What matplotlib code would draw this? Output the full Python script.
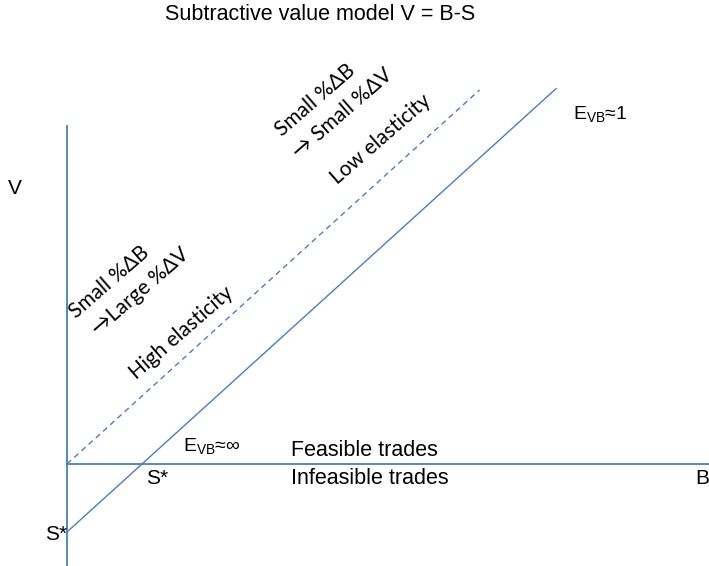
import matplotlib
matplotlib.use("Agg")
import matplotlib.pyplot as plt
import numpy as np

# model units: S* = 1, V = B - S
S_star = 1.0
B_solid = np.array([0.0, 6.52])
V_solid = B_solid - S_star          # subtractive value line
B_dash = np.array([0.0, 5.5])
V_dash = B_dash                     # parallel line through origin
B_axis = [0.0, 8.6]
V_axis = [-1.5, 4.97]

line_color = '#4a7ebb'

plt.rcParams['mathtext.fontset'] = 'custom'
plt.rcParams['mathtext.rm'] = 'Liberation Sans'
arial = ['Liberation Sans', 'DejaVu Sans']
calibri = ['Lato', 'DejaVu Sans']

fig = plt.figure(figsize=(7.09, 5.66), dpi=100)
ax = fig.add_axes([0, 0, 1, 1])
ax.set_xlim(-67 / 75, (709 - 67) / 75)
ax.set_ylim((464 - 566) / 68, 464 / 68)
ax.axis('off')

# axes of the diagram
ax.plot(B_axis, [0, 0], color=line_color, lw=1.3)
ax.plot([0, 0], V_axis, color=line_color, lw=1.3)

ax.plot(B_solid, V_solid, color=line_color, lw=1.0)
ax.plot(B_dash, V_dash, color=line_color, lw=1.0, dashes=(4, 3))

fig.text(0.452, 1 - 14 / 566, 'Subtractive value model V = B-S', ha='center', va='center',
         fontsize=15.5, family=arial)

def px(x, y):
    return (x - 67) / 75, (464 - y) / 68

ax.text(*px(15, 188), 'V', fontsize=15, family=arial, ha='center', va='center')
ax.text(*px(702, 478), 'B', fontsize=15, family=arial, ha='center', va='center')
ax.text(*px(56, 535), 'S*', fontsize=15, family=arial, ha='center', va='center')
ax.text(*px(157, 478), 'S*', fontsize=15, family=arial, ha='center', va='center')
ax.text(*px(183, 447), r'E$_{\mathrm{VB}}$≈∞', fontsize=14, family=arial, ha='left', va='center')
ax.text(*px(573, 115), r'E$_{\mathrm{VB}}$≈1', fontsize=14, family=arial, ha='left', va='center')
ax.text(*px(291, 450), 'Feasible trades', fontsize=15.5, family=arial, ha='left', va='center')
ax.text(*px(291, 479), 'Infeasible trades', fontsize=15.5, family=arial, ha='left', va='center')

rot = 41
fs = 15
ax.text(*px(315, 100), 'Small %ΔB', fontsize=fs, family=calibri, rotation=rot, ha='center', va='center')
ax.text(*px(342, 113), '→ Small %ΔV', fontsize=fs, family=calibri, rotation=rot, ha='center', va='center')
ax.text(*px(381, 139), 'Low elasticity', fontsize=fs, family=calibri, rotation=rot, ha='center', va='center')
ax.text(*px(109, 282), 'Small %ΔB', fontsize=fs, family=calibri, rotation=rot, ha='center', va='center')
ax.text(*px(140, 292), '→Large %ΔV', fontsize=fs, family=calibri, rotation=rot, ha='center', va='center')
ax.text(*px(181, 333), 'High elasticity', fontsize=fs, family=calibri, rotation=rot, ha='center', va='center')

fig.savefig('out.png', dpi=100)
